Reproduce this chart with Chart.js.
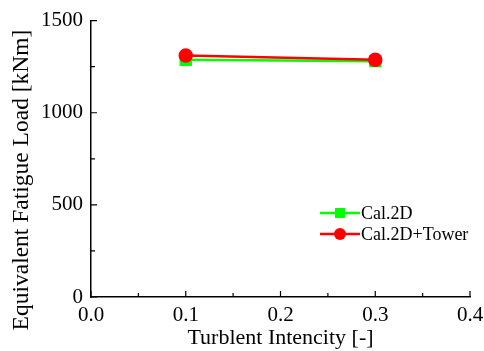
<!DOCTYPE html>
<html>
<head>
<meta charset="utf-8">
<script src="https://cdn.jsdelivr.net/npm/chart.js@4"></script>
<style>
  html, body { margin: 0; padding: 0; background: #fff; }
  #wrap { width: 484px; height: 351px; }
</style>
</head>
<body>
<div id="wrap"><canvas id="fatigue"></canvas></div>
<script>
const intensity = [0.1, 0.3];
const cal2d = [1287, 1280];
const cal2dTower = [1310, 1287];
const xTicks = [0.0, 0.1, 0.2, 0.3, 0.4];
const yTicks = [0, 500, 1000, 1500];
const yTitle = 'Equivalent Fatigue Load [kNm]';

const serif = "'Liberation Serif', 'Times New Roman', serif";

// inward ticks (major + minor) drawn from the scales
const innerTicks = {
    id: 'innerTicks',
    afterDraw(chart) {
        const c = chart.ctx, a = chart.chartArea;
        const xs = chart.scales.x, ys = chart.scales.y;
        c.save();
        c.strokeStyle = '#000';
        c.lineWidth = 1.2;
        c.beginPath();
        for (let v = 0; v <= 0.4001; v += 0.05) {
            const px = xs.getPixelForValue(v);
            const len = Math.round(v * 100) % 10 === 0 ? 6 : 4;
            c.moveTo(px, a.bottom); c.lineTo(px, a.bottom - len);
        }
        for (let v = 0; v <= 1500; v += 250) {
            const py = ys.getPixelForValue(v);
            const len = v % 500 === 0 ? 6 : 4;
            c.moveTo(a.left, py); c.lineTo(a.left + len, py);
        }
        c.stroke();
        // y title sits a bit low in the original, so place it by hand
        c.translate(28, 180);
        c.rotate(-Math.PI / 2);
        c.font = '23.5px ' + serif;
        c.fillStyle = '#000';
        c.textAlign = 'center';
        c.textBaseline = 'alphabetic';
        c.fillText(yTitle, 0, 0);
        c.restore();
    }
};

// legend inside plot area
const innerLegend = {
    id: 'innerLegend',
    afterDraw(chart) {
        const c = chart.ctx;
        const items = chart.data.datasets;
        c.save();
        c.font = '18px ' + serif;
        c.textBaseline = 'middle';
        items.forEach((ds, i) => {
            const y = 213 + i * 21;
            c.strokeStyle = ds.borderColor;
            c.lineWidth = 2.5;
            c.beginPath(); c.moveTo(320, y); c.lineTo(360, y); c.stroke();
            c.fillStyle = ds.borderColor;
            if (ds.pointStyle === 'rect') {
                c.fillRect(335, y - 5, 10, 10);
            } else {
                c.beginPath(); c.arc(340, y, 6, 0, Math.PI * 2); c.fill();
            }
            c.fillStyle = '#000';
            c.fillText(ds.label, 361, y + 1);
        });
        c.restore();
    }
};

new Chart(document.getElementById('fatigue'), {
    type: 'line',
    data: {
        datasets: [{
            label: 'Cal.2D',
            data: intensity.map((x, i) => ({ x: x, y: cal2d[i] })),
            borderColor: '#00ff00',
            backgroundColor: '#00ff00',
            borderWidth: 2.5,
            pointStyle: 'rect',
            pointRadius: 7,
            pointHoverRadius: 7,
            order: 2
        }, {
            label: 'Cal.2D+Tower',
            data: intensity.map((x, i) => ({ x: x, y: cal2dTower[i] })),
            borderColor: '#ff0000',
            backgroundColor: '#ff0000',
            borderWidth: 2.5,
            pointStyle: 'circle',
            pointRadius: 6,
            pointHoverRadius: 6,
            order: 1
        }]
    },
    options: {
        responsive: true,
        maintainAspectRatio: false,
        animation: false,
        layout: { padding: { top: 20, right: 14, left: 0, bottom: 0 } },
        plugins: {
            legend: { display: false },
            tooltip: { enabled: false }
        },
        scales: {
            x: {
                type: 'linear',
                min: 0, max: 0.4,
                afterBuildTicks: s => { s.ticks = xTicks.map(v => ({ value: v })); },
                afterFit: s => { s.paddingRight = 0; s.paddingLeft = 0; s.height = 54; },
                grid: { display: false, drawTicks: false },
                border: { display: true, color: '#000', width: 1.5 },
                ticks: {
                    color: '#000',
                    font: { family: serif, size: 21 },
                    padding: 6,
                    maxRotation: 0,
                    callback: v => v.toFixed(1)
                },
                title: {
                    display: true,
                    text: 'Turblent Intencity [-]',
                    color: '#000',
                    font: { family: serif, size: 22 },
                    padding: { top: 0, bottom: 0 }
                }
            },
            y: {
                min: 0, max: 1500,
                afterBuildTicks: s => { s.ticks = yTicks.map(v => ({ value: v })); },
                afterFit: s => { s.width = 91; },
                grid: { display: false, drawTicks: false },
                border: { display: true, color: '#000', width: 1.5 },
                ticks: {
                    color: '#000',
                    font: { family: serif, size: 21 },
                    padding: 8,
                    callback: v => String(v)
                }
            }
        }
    },
    plugins: [innerTicks, innerLegend]
});
</script>
</body>
</html>
